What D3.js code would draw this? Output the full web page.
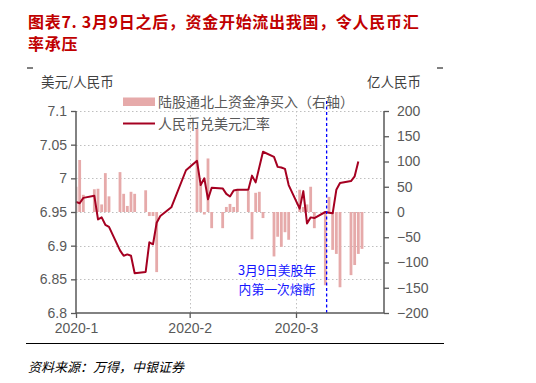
<!DOCTYPE html>
<html><head><meta charset="utf-8">
<script src="https://cdn.jsdelivr.net/npm/d3@7/dist/d3.min.js"></script>
<style>
body{margin:0;background:#fff;}
svg{display:block;}
</style></head>
<body><svg id="c" width="536" height="383"></svg>
<script>
// ---------- data ----------
const barDates = ["2020-01-01","2020-01-02","2020-01-03","2020-01-06","2020-01-07","2020-01-08","2020-01-09","2020-01-10",
"2020-01-13","2020-01-14","2020-01-15","2020-01-16","2020-01-17","2020-01-20","2020-01-21","2020-01-22","2020-01-23",
"2020-02-03","2020-02-04","2020-02-05","2020-02-06","2020-02-07","2020-02-10","2020-02-11","2020-02-12","2020-02-13","2020-02-14",
"2020-02-17","2020-02-18","2020-02-19","2020-02-20","2020-02-21","2020-02-24","2020-02-25","2020-02-26","2020-02-27","2020-02-28",
"2020-03-02","2020-03-03","2020-03-04","2020-03-05","2020-03-06","2020-03-09","2020-03-10","2020-03-11","2020-03-12","2020-03-13",
"2020-03-16","2020-03-17","2020-03-18","2020-03-19"];
const barValues = [50,103,34,45,46,15,77,31,
79,36,12,40,36,43,-8,-8,-119,
165,55,-5,106,-32,-32,10,16,10,45,
42,-54,38,40,-12,-88,-49,-69,-40,-55,
44,10,15,50,-32,-145,30,-75,-83,-149,
-125,-105,-83,-73];

const lineDates = ["2020-01-01","2020-01-02","2020-01-03","2020-01-06","2020-01-07","2020-01-08","2020-01-09","2020-01-10",
"2020-01-13","2020-01-14","2020-01-15","2020-01-16","2020-01-17","2020-01-20","2020-01-21","2020-01-22","2020-01-23",
"2020-01-24","2020-01-27","2020-01-31",
"2020-02-03","2020-02-04","2020-02-05","2020-02-06","2020-02-07","2020-02-10","2020-02-11","2020-02-12","2020-02-13","2020-02-14",
"2020-02-17","2020-02-18","2020-02-19","2020-02-21","2020-02-24","2020-02-25","2020-02-26","2020-02-27","2020-02-28",
"2020-03-02","2020-03-03","2020-03-04","2020-03-05","2020-03-06","2020-03-09","2020-03-10","2020-03-11","2020-03-12","2020-03-13",
"2020-03-16","2020-03-17","2020-03-18"];
const lineValues = [6.965,6.963,6.971,6.974,6.939,6.942,6.931,6.928,
6.893,6.885,6.887,6.885,6.859,6.861,6.905,6.902,6.934,
6.944,6.957,7.012,
7.026,6.990,7.000,6.969,6.986,6.985,6.977,6.973,6.982,6.983,
6.983,7.004,6.994,7.0395,7.032,7.017,7.016,7.014,6.990,
6.955,6.981,6.933,6.942,6.941,6.950,6.949,6.948,6.983,6.993,
6.996,7.003,7.025];

const leftTicks = [6.8,6.85,6.9,6.95,7.0,7.05,7.1];
const leftTickLabels = ["6.8","6.85","6.9","6.95","7","7.05","7.1"];
const rightTicks = [-200,-150,-100,-50,0,50,100,150,200];
const monthTicks = ["2020-01-01","2020-02-01","2020-03-01"];
const monthLabels = ["2020-1","2020-2","2020-3"];
const eventDate = "2020-03-09";

const title1 = "图表7. 3月9日之后，资金开始流出我国，令人民币汇";
const title2 = "率承压";
const leftUnit = "美元/人民币";
const rightUnit = "亿人民币";
const legendBar = "陆股通北上资金净买入（右轴）";
const legendLine = "人民币兑美元汇率";
const noteLines = ["3月9日美股年","内第一次熔断"];
const sourceText = "资料来源：万得，中银证券";

// ---------- drawing ----------
const parse = d3.timeParse("%Y-%m-%d");
const svg = d3.select("#c");
const L = 76, R = 384, T = 111, B = 313;
const cjk = "'Noto Sans CJK SC','Noto Sans',sans-serif";
const num = "'Liberation Sans',Arial,sans-serif";
const axisCol = "#595959", textCol = "#595959";

const x = d3.scaleTime().domain([parse("2020-01-01"), parse("2020-03-25")]).range([L, R]);
const yL = d3.scaleLinear().domain([6.8, 7.1]).range([B, T]);
const yR = d3.scaleLinear().domain([-200, 200]).range([B, T]);

// title
svg.append("text").attr("x", 28).attr("y", 28).attr("fill", "#C00000")
  .attr("font-family", cjk).attr("font-weight", "bold").attr("font-size", 16).attr("letter-spacing", 0.7).text(title1);
svg.append("text").attr("x", 28).attr("y", 50).attr("fill", "#C00000")
  .attr("font-family", cjk).attr("font-weight", "bold").attr("font-size", 16).attr("letter-spacing", 0.7).text(title2);

// frame marks
svg.append("line").attr("x1", 27).attr("x2", 33).attr("y1", 68).attr("y2", 68).attr("stroke", "#000");
svg.append("line").attr("x1", 437).attr("x2", 443).attr("y1", 68).attr("y2", 68).attr("stroke", "#000");
svg.append("line").attr("x1", 26).attr("x2", 444).attr("y1", 343.5).attr("y2", 343.5).attr("stroke", "#000").attr("stroke-width", 1);

// gridlines
const grid = svg.append("g");
leftTicks.filter(v => v > 6.8).forEach(v => {
  grid.append("line").attr("x1", L).attr("x2", R).attr("y1", Math.round(yL(v)) + 0.5).attr("y2", Math.round(yL(v)) + 0.5)
    .attr("stroke", "#bfbfbf").attr("stroke-dasharray", "1.5,2.5");
});
monthTicks.slice(1).forEach(d => {
  grid.append("line").attr("x1", Math.round(x(parse(d))) + 0.5).attr("x2", Math.round(x(parse(d))) + 0.5)
    .attr("y1", T).attr("y2", B).attr("stroke", "#bfbfbf").attr("stroke-dasharray", "1.5,2.5");
});

// clip
svg.append("clipPath").attr("id", "clip").append("rect").attr("x", L + 0.5).attr("y", T - 5).attr("width", R - L).attr("height", B - T + 10);

// bars
const bw = 2.8;
svg.append("g").attr("clip-path", "url(#clip)").selectAll("rect").data(barValues).join("rect")
  .attr("x", (v, i) => x(parse(barDates[i])) - bw / 2)
  .attr("width", bw)
  .attr("y", v => Math.min(yR(v), yR(0)))
  .attr("height", v => Math.abs(yR(v) - yR(0)))
  .attr("fill", "#E6AAAA");

// line
const lineGen = d3.line().x((v, i) => x(parse(lineDates[i]))).y(v => yL(v));
svg.append("path").datum(lineValues).attr("d", lineGen).attr("fill", "none")
  .attr("stroke", "#A50021").attr("stroke-width", 2).attr("stroke-linejoin", "round");

// event line
const ex = x(parse(eventDate)) + 1.3;
svg.append("line").attr("x1", ex).attr("x2", ex).attr("y1", 101).attr("y2", B)
  .attr("stroke", "#0000FF").attr("stroke-width", 1.3).attr("stroke-dasharray", "3,2.5");

// axes
const leftAxis = d3.axisLeft(yL).tickValues(leftTicks).tickSize(5).tickFormat((d, i) => leftTickLabels[i]);
const gL = svg.append("g").attr("transform", `translate(${L},0)`).call(leftAxis);
const rightAxis = d3.axisRight(yR).tickValues(rightTicks).tickSize(5).tickFormat(d3.format("d"));
const gR = svg.append("g").attr("transform", `translate(${R},0)`).call(rightAxis);
const bottomAxis = d3.axisBottom(x).tickValues(monthTicks.map(parse)).tickSize(5).tickFormat((d, i) => monthLabels[i]);
const gB = svg.append("g").attr("transform", `translate(0,${B})`).call(bottomAxis);
[gL, gR, gB].forEach(g => {
  g.select(".domain").attr("stroke", axisCol).attr("stroke-width", 1.5);
  g.selectAll(".tick line").attr("stroke", axisCol).attr("stroke-width", 1.3);
  g.selectAll(".tick text").attr("fill", textCol).attr("font-family", num).attr("font-size", 14);
});
gL.selectAll(".tick text").attr("x", -9);
gR.selectAll(".tick text").attr("x", 13);
gB.selectAll(".tick text").attr("y", 10);
gL.select(".domain").attr("d", `M0,${B}V${T}`);
gR.select(".domain").attr("d", `M0,${B}V${T}`);
gB.select(".domain").attr("d", `M${L},0H${R}`);

// units
svg.append("text").attr("x", 41).attr("y", 87).attr("fill", "#404040").attr("font-family", cjk).attr("font-size", 13.5).text(leftUnit);
svg.append("text").attr("x", 367).attr("y", 87).attr("fill", "#404040").attr("font-family", cjk).attr("font-size", 13.5).text(rightUnit);

// legend
svg.append("rect").attr("x", 123).attr("y", 97.5).attr("width", 32).attr("height", 8.5).attr("fill", "#E6AAAA");
svg.append("text").attr("x", 158).attr("y", 107).attr("fill", textCol).attr("font-family", cjk).attr("font-size", 14).text(legendBar);
svg.append("line").attr("x1", 123).attr("x2", 155).attr("y1", 123.5).attr("y2", 123.5).attr("stroke", "#A50021").attr("stroke-width", 2);
svg.append("text").attr("x", 158).attr("y", 129).attr("fill", textCol).attr("font-family", cjk).attr("font-size", 14).text(legendLine);

// annotation (one text block, two lines)
const note = svg.append("text").attr("text-anchor", "middle").attr("fill", "#1515FF")
  .attr("font-family", cjk).attr("font-size", 12.8);
noteLines.forEach((t, i) => {
  note.append("tspan").attr("x", 277).attr("y", 275 + i * 18.8).text(t);
});

// source
svg.append("text").attr("x", 28).attr("y", 372).attr("fill", "#000").attr("font-family", cjk)
  .attr("font-style", "italic").attr("font-size", 13).text(sourceText);
</script></body></html>
